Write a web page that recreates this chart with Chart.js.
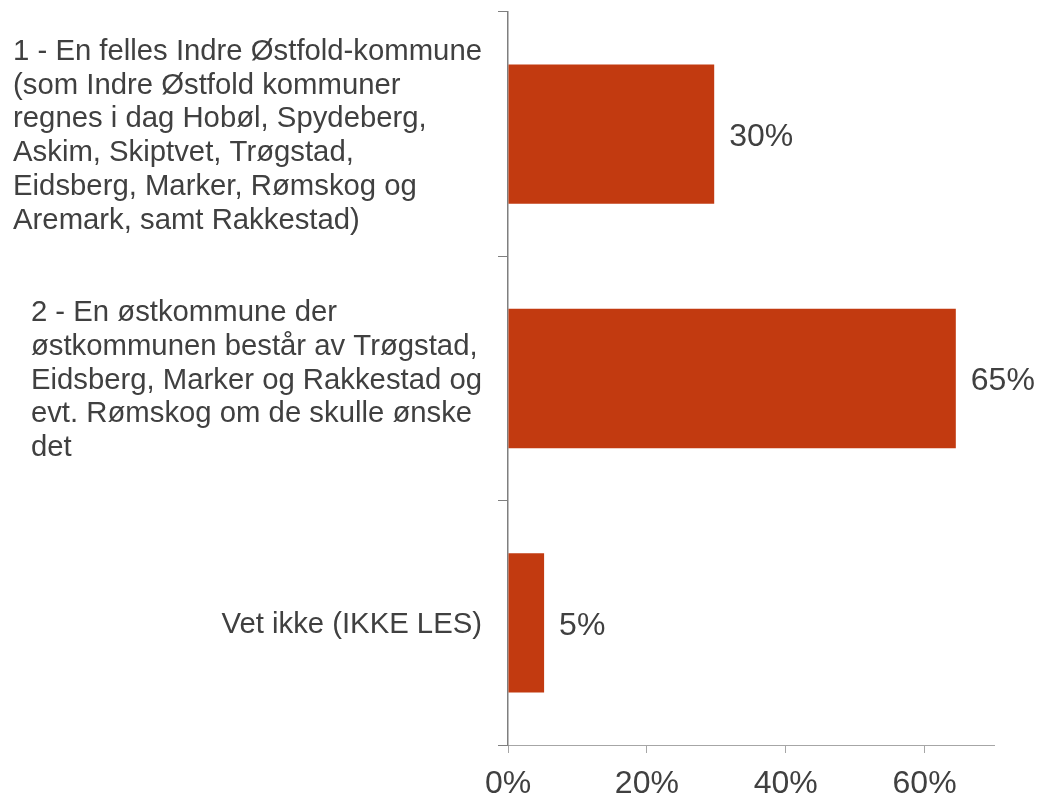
<!DOCTYPE html>
<html>
<head>
<meta charset="utf-8">
<script src="https://cdn.jsdelivr.net/npm/chart.js@4"></script>
<style>
  html, body { margin: 0; padding: 0; background: #fff; }
  #wrap { width: 1037px; height: 796px; }
</style>
</head>
<body>
<div id="wrap"><canvas id="myChart" width="1037" height="796"></canvas></div>
<script>
const kategorier = [
    ["1 - En felles Indre Østfold-kommune", "(som Indre Østfold kommuner", "regnes i dag Hobøl, Spydeberg,", "Askim, Skiptvet, Trøgstad,", "Eidsberg, Marker, Rømskog og", "Aremark, samt Rakkestad)"],
    ["2 - En østkommune der", "østkommunen består av Trøgstad,", "Eidsberg, Marker og Rakkestad og", "evt. Rømskog om de skulle ønske", "det"],
    ["Vet ikke (IKKE LES)"]
];
const andel = [29.7, 64.5, 5.2];
const xTicks = [0, 20, 40, 60];

const tekstFarge = '#404040';
const fontFamily = '"Liberation Sans", Arial, sans-serif';

// tegner kategoritekst (blokk høyrejustert, linjer venstrejustert) og verdier
const etiketter = {
    id: 'etiketter',
    afterDraw(chart) {
        const ctx = chart.ctx;
        const y = chart.scales.y;
        const x = chart.scales.x;
        ctx.save();
        ctx.fillStyle = tekstFarge;
        ctx.textBaseline = 'middle';
        ctx.textAlign = 'left';

        ctx.font = '29.3px ' + fontFamily;
        const linjeH = 33.8;
        kategorier.forEach((linjer, i) => {
            const midt = y.getPixelForValue(i);
            const bredde = Math.max(...linjer.map(l => ctx.measureText(l).width));
            const venstre = 482 - bredde;
            linjer.forEach((l, j) => {
                ctx.fillText(l, venstre, midt + (j - (linjer.length - 1) / 2) * linjeH + 2);
            });
        });

        ctx.font = '32px ' + fontFamily;
        andel.forEach((v, i) => {
            ctx.fillText(Math.round(v) + '%', x.getPixelForValue(v) + 15, y.getPixelForValue(i) + 3);
        });
        ctx.restore();
    }
};

new Chart(document.getElementById('myChart'), {
    type: 'bar',
    data: {
        labels: kategorier,
        datasets: [{
            data: andel,
            backgroundColor: '#C23A10',
            borderWidth: 0,
            categoryPercentage: 1,
            barPercentage: 0.57
        }]
    },
    options: {
        indexAxis: 'y',
        responsive: false,
        animation: false,
        layout: { padding: { top: 12, right: 43, left: 0, bottom: 0 } },
        plugins: { legend: { display: false }, tooltip: { enabled: false } },
        scales: {
            x: {
                min: 0,
                max: 70,
                afterBuildTicks: scale => { scale.ticks = xTicks.map(v => ({ value: v })); },
                afterFit: scale => { scale.height = 51; },
                ticks: {
                    color: tekstFarge,
                    font: { size: 32, family: fontFamily },
                    padding: 12,
                    callback: v => v + '%'
                },
                grid: { drawOnChartArea: false, drawTicks: true, tickLength: 8, color: '#a6a6a6' },
                border: { color: '#a6a6a6', width: 1 }
            },
            y: {
                afterFit: scale => { scale.width = 508; },
                ticks: { display: false },
                grid: { drawOnChartArea: false, drawTicks: true, tickLength: 10, color: '#7f7f7f' },
                border: { color: '#7f7f7f', width: 1.5 }
            }
        }
    },
    plugins: [etiketter]
});
</script>
</body>
</html>
